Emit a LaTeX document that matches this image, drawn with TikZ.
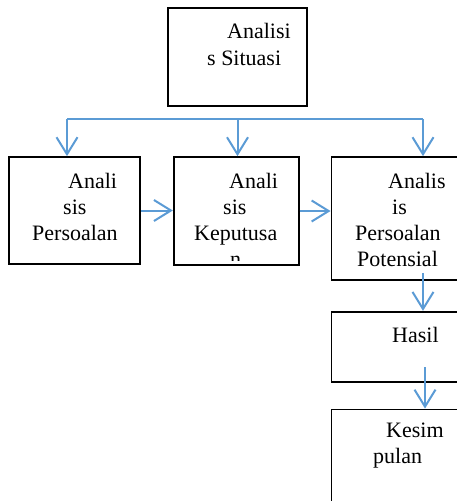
\documentclass[tikz,border=0pt]{standalone}
\usepackage{fontspec}
\setmainfont{Liberation Serif}
\usetikzlibrary{arrows.meta, positioning}
\definecolor{flowblue}{HTML}{5B9BD5}

\begin{document}
\begin{tikzpicture}[x=1pt, y=-1pt,
    box/.style={rectangle, draw, line width=1.7pt, inner sep=0pt},
    txt/.style={anchor=base west, align=left, inner sep=0pt, font=\fontsize{22}{26}\selectfont},
    link/.style={flowblue, line width=1.5pt},
    arrow/.style={-{Straight Barb[length=17pt, width=21pt]}, flowblue, line width=2pt}]

    \useasboundingbox (0,0) rectangle (457,501);
    \clip (0,0) rectangle (457,501);

    % Top box
    \node[box, minimum width=139pt, minimum height=98pt] (sit) at (237.5,57) {};
    \node[txt, font=\fontsize{22}{27}\selectfont] (sit_text) at (207,65) {\hspace*{20pt}Analisi\\s Situasi};

    % Row of three analyses
    \node[box, minimum width=131pt, minimum height=107pt] (per) at (74.5,210.5) {};
    \node[box, minimum width=125pt, minimum height=108pt, right=32pt of per.north east, anchor=north west] (kep) {};
    \node[box, minimum width=145pt, minimum height=123pt, right=31pt of kep.north east, anchor=north west] (pot) {};

    % Right column
    \node[box, minimum width=146pt, minimum height=70pt, below=30pt of pot.south west, anchor=north west] (hasil) {};
    \node[box, minimum width=146pt, minimum height=114pt, below=26pt of hasil] (kes) {};

    % Box texts (anchored at the last line)
    \node[txt] (per_text) at (32,240) {\hspace*{36pt}Anali\\\hspace*{31pt}sis\\Persoalan};
    \begin{scope}
        \clip (kep.north west) rectangle ([yshift=5pt]kep.south east);
        \node[txt] (kep_text) at (194,266) {\hspace*{35pt}Anali\\\hspace*{29pt}sis\\Keputusa\\\hspace*{36pt}n};
    \end{scope}
    \node[txt] (pot_text) at (355,266) {\hspace*{33pt}Analis\\\hspace*{37pt}is\\Persoalan\\\hspace*{2pt}Potensial};
    \node[txt] (hasil_text) at (392,342) {Hasil};
    \node[txt] (kes_text) at (373,463) {\hspace*{13pt}Kesim\\pulan};

    % Fork line
    \coordinate (fork_l) at (67,119);
    \coordinate (fork_r) at (423,119);
    \draw[link] (fork_l) -- (fork_r);
    \draw[arrow] (fork_l) -- (fork_l |- per.north);
    \draw[arrow] (sit.south |- fork_l) -- (sit.south |- kep.north);
    \draw[arrow] (fork_r) -- (fork_r |- pot.north);

    % Flow arrows
    \draw[arrow] (per.east) -- (per.east -| kep.west);
    \draw[arrow] (kep.east) -- (kep.east -| pot.west);
    \draw[arrow] (fork_r |- pot.south) ++(0,-8) -- (fork_r |- hasil.north);
    \coordinate (hk) at (425,367);
    \draw[arrow] (hk) -- (hk |- kes.north);

\end{tikzpicture}
\end{document}
